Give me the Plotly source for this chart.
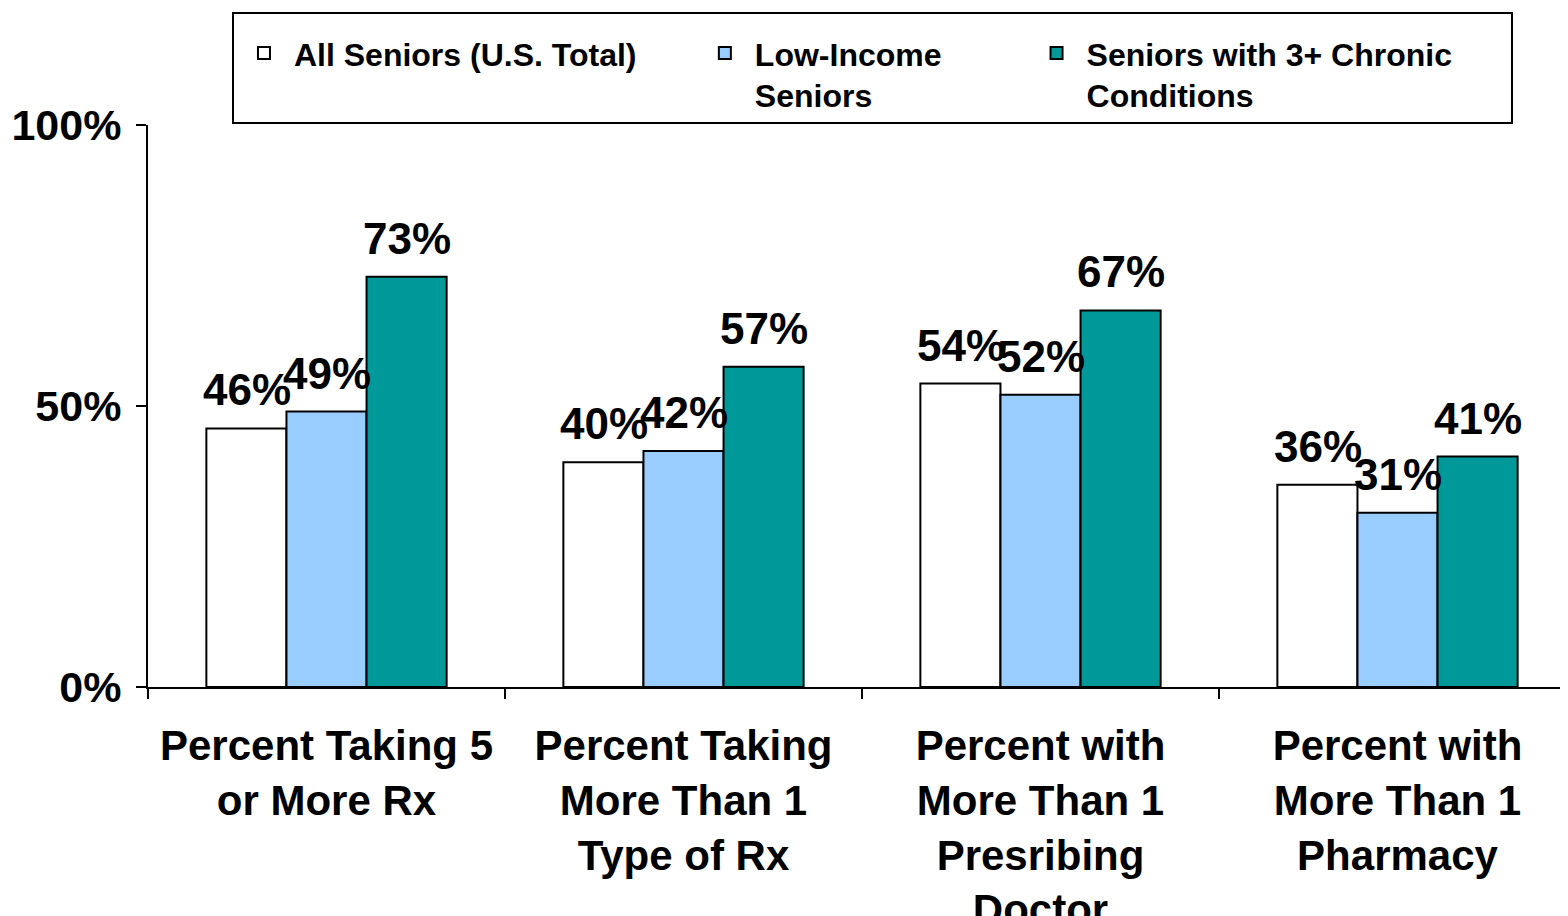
import plotly.graph_objects as go

categories = [
    "Percent Taking 5<br>or More Rx",
    "Percent Taking<br>More Than 1<br>Type of Rx",
    "Percent with<br>More Than 1<br>Presribing<br>Doctor",
    "Percent with<br>More Than 1<br>Pharmacy",
]
series_names = [
    "All Seniors (U.S. Total)\u00a0\u00a0\u00a0\u00a0\u00a0\u00a0",
    "Low-Income\u00a0\u00a0\u00a0\u00a0\u00a0\u00a0\u00a0\u00a0\u00a0<br>Seniors",
    "Seniors with 3+ Chronic\u00a0\u00a0\u00a0\u00a0\u00a0\u00a0<br>Conditions",
]
all_seniors = [46, 40, 54, 36]
low_income = [49, 42, 52, 31]
chronic = [73, 57, 67, 41]
series_values = [all_seniors, low_income, chronic]
series_colors = ["#FFFFFF", "#99CCFF", "#009999"]

y_tickvals = [0, 50, 100]
y_ticktext = ["0%", "50%", "100%"]

FONT = "Arial, Liberation Sans, sans-serif"
BAR_PX = 80  # pixel width of one bar within a group (for label offsets)

fig = go.Figure()
for name, vals, col in zip(series_names, series_values, series_colors):
    fig.add_trace(go.Bar(
        x=categories, y=vals, name=name,
        marker=dict(color=col, line=dict(color="black", width=2)),
    ))

annotations = []
for i, vals in enumerate(series_values):
    for cat, v in zip(categories, vals):
        annotations.append(dict(
            x=cat, y=v, xref="x", yref="y", text=f"{v}%", showarrow=False,
            xanchor="center", yanchor="bottom", xshift=(i - 1) * BAR_PX, yshift=12,
            font=dict(family=FONT, size=44, color="black", weight="bold"),
        ))

fig.update_layout(
    width=1568, height=916,
    margin=dict(l=140, r=0, t=117, b=237, pad=0),
    paper_bgcolor="white", plot_bgcolor="white",
    barmode="group", bargap=0.327, bargroupgap=0,
    font=dict(family=FONT, color="black", weight="bold"),
    showlegend=True,
    annotations=annotations,
    legend=dict(
        orientation="h", x=0.0588, y=1.201, xanchor="left", yanchor="top",
        bordercolor="black", borderwidth=2, bgcolor="white",
        font=dict(family=FONT, size=32, color="black", weight="bold"),
        valign="top", traceorder="normal", itemwidth=50,
        title=dict(text="&nbsp;", side="top", font=dict(size=9)),
    ),
    xaxis=dict(
        type="category", range=[-0.5, 3.5], tickson="boundaries",
        ticks="outside", ticklen=10, tickwidth=2, tickcolor="black",
        showline=True, linecolor="black", linewidth=2,
        showgrid=False, zeroline=False, automargin=False,
        tickfont=dict(family=FONT, size=42, color="black", weight="bold"),
        ticklabelstandoff=21,
    ),
    yaxis=dict(
        range=[0, 100], tickvals=y_tickvals, ticktext=y_ticktext,
        ticks="outside", ticklen=10, tickwidth=2, tickcolor="black",
        showline=True, linecolor="black", linewidth=2,
        showgrid=False, zeroline=False, automargin=False,
        tickfont=dict(family=FONT, size=43, color="black", weight="bold"),
        ticklabelstandoff=6,
    ),
)

fig.write_html("out.html")
